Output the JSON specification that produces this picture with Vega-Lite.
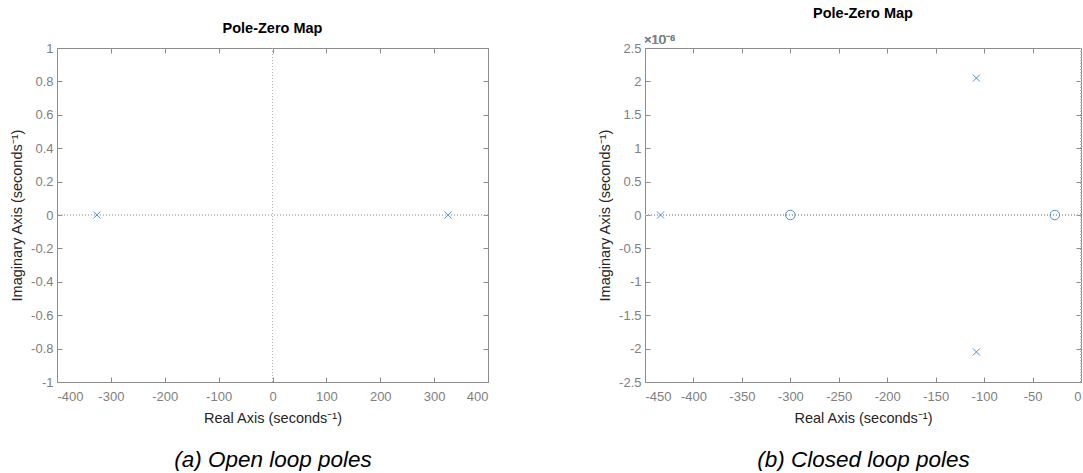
{
  "$schema": "https://vega.github.io/schema/vega-lite/v6.json",
  "padding": {"left": 9, "top": 5, "right": 0, "bottom": 0},
  "bounds": "flush",
  "spacing": 157,
  "background": "white",
  "config": {
    "font": "Liberation Sans",
    "view": {"stroke": "#8c8c8c", "strokeWidth": 1},
    "axis": {
      "domain": false, "grid": false,
      "tickColor": "#8c8c8c", "tickSize": -5,
      "labelColor": "#808080", "labelFontSize": 13, "labelFont": "Liberation Sans",
      "labelPadding": 9, "labelOverlap": false,
      "titleFont": "Liberation Sans", "titleFontSize": 14.5, "titleFontWeight": "normal", "titleColor": "#262626"
    },
    "axisBottom": {"labelPadding": 13},
    "title": {"font": "Liberation Sans", "fontSize": 14.5, "fontWeight": "bold", "color": "#000000"}
  },
  "datasets": {
    "open": [
      {"re": -326, "im": 0, "type": "pole"},
      {"re": 326, "im": 0, "type": "pole"}
    ],
    "closed": [
      {"re": -434, "im": 0, "type": "pole"},
      {"re": -300, "im": 0, "type": "zero"},
      {"re": -108, "im": 2.05e-6, "type": "pole"},
      {"re": -108, "im": -2.05e-6, "type": "pole"},
      {"re": -27, "im": 0, "type": "zero"}
    ]
  },
  "hconcat": [
    {
      "width": 431, "height": 334,
      "title": {"text": "Pole-Zero Map", "offset": 6},
      "resolve": {"axis": {"x": "independent", "y": "independent"}},
      "data": {"name": "open"},
      "layer": [
        {
          "mark": {"type": "rule", "color": "#b0b0b0", "strokeDash": [1, 2], "strokeWidth": 1},
          "encoding": {"y": {"datum": 0, "type": "quantitative", "scale": {"domain": [-1, 1], "nice": false, "zero": false}, "axis": null}}
        },
        {
          "mark": {"type": "rule", "color": "#b0b0b0", "strokeDash": [1, 2], "strokeWidth": 1},
          "encoding": {"x": {"datum": 0, "type": "quantitative", "scale": {"domain": [-400, 400], "nice": false, "zero": false}, "axis": null}}
        },
        {
          "mark": {"type": "point", "opacity": 0},
          "encoding": {
            "x": {"field": "re", "type": "quantitative", "scale": {"domain": [-400, 400], "nice": false, "zero": false},
              "axis": {"orient": "top", "labels": false, "title": null, "values": [-400, -300, -200, -100, 0, 100, 200, 300, 400]}},
            "y": {"field": "im", "type": "quantitative", "scale": {"domain": [-1, 1], "nice": false, "zero": false},
              "axis": {"orient": "right", "labels": false, "title": null, "values": [-1, -0.8, -0.6, -0.4, -0.2, 0, 0.2, 0.4, 0.6, 0.8, 1]}}
          }
        },
        {
          "mark": {"type": "point", "opacity": 0},
          "encoding": {
            "x": {"field": "re", "type": "quantitative", "scale": {"domain": [-400, 400], "nice": false, "zero": false},
              "axis": {"orient": "bottom", "labels": false, "ticks": false, "title": "(a) Open loop poles", "titleFontSize": 22.5, "titleFontStyle": "italic", "titleColor": "#000000", "titlePadding": 66}},
            "y": {"field": "im", "type": "quantitative", "scale": {"domain": [-1, 1], "nice": false, "zero": false}, "axis": null}
          }
        },
        {
          "mark": {"type": "point", "filled": false, "color": "#4a90d9", "strokeWidth": 1, "size": 49, "shape": "M-1,-1L1,1M1,-1L-1,1", "opacity": 1},
          "encoding": {
            "x": {"field": "re", "type": "quantitative", "scale": {"domain": [-400, 400], "nice": false, "zero": false},
              "axis": {"orient": "bottom", "title": "Real Axis (seconds⁻¹)", "values": [-400, -300, -200, -100, 0, 100, 200, 300, 400], "labelExpr": "replace(format(datum.value, 'd'), '−', '-')", "titlePadding": 8}},
            "y": {"field": "im", "type": "quantitative", "scale": {"domain": [-1, 1], "nice": false, "zero": false},
              "axis": {"orient": "left", "title": "Imaginary Axis (seconds⁻¹)", "values": [-1, -0.8, -0.6, -0.4, -0.2, 0, 0.2, 0.4, 0.6, 0.8, 1], "labelExpr": "replace(format(datum.value, '.1~f'), '−', '-')", "titlePadding": 6}}
          }
        }
      ]
    },
    {
      "width": 436, "height": 334,
      "title": {"text": "Pole-Zero Map", "offset": 13},
      "resolve": {"axis": {"x": "independent", "y": "independent"}},
      "data": {"name": "closed"},
      "layer": [
        {
          "mark": {"type": "rule", "color": "#b0b0b0", "strokeDash": [1, 2], "strokeWidth": 1},
          "encoding": {"y": {"datum": 0, "type": "quantitative", "scale": {"domain": [-2.5e-6, 2.5e-6], "nice": false, "zero": false}, "axis": null}}
        },
        {
          "mark": {"type": "rule", "color": "#b0b0b0", "strokeDash": [1, 2], "strokeWidth": 1},
          "encoding": {"x": {"datum": 0, "type": "quantitative", "scale": {"domain": [-450, 0], "nice": false, "zero": false}, "axis": null}}
        },
        {
          "mark": {"type": "text", "align": "left", "baseline": "bottom", "dx": -1, "dy": -1, "fontSize": 13, "color": "#808080", "text": "×10⁻⁶"},
          "encoding": {
            "x": {"datum": -450, "type": "quantitative", "scale": {"domain": [-450, 0], "nice": false, "zero": false}, "axis": null},
            "y": {"datum": 2.5e-6, "type": "quantitative", "scale": {"domain": [-2.5e-6, 2.5e-6], "nice": false, "zero": false}, "axis": null}
          }
        },
        {
          "mark": {"type": "point", "opacity": 0},
          "encoding": {
            "x": {"field": "re", "type": "quantitative", "scale": {"domain": [-450, 0], "nice": false, "zero": false},
              "axis": {"orient": "top", "labels": false, "title": null, "values": [-450, -400, -350, -300, -250, -200, -150, -100, -50, 0]}},
            "y": {"field": "im", "type": "quantitative", "scale": {"domain": [-2.5e-6, 2.5e-6], "nice": false, "zero": false},
              "axis": {"orient": "right", "labels": false, "title": null, "values": [-2.5e-6, -2e-6, -1.5e-6, -1e-6, -0.5e-6, 0, 0.5e-6, 1e-6, 1.5e-6, 2e-6, 2.5e-6]}}
          }
        },
        {
          "mark": {"type": "point", "opacity": 0},
          "encoding": {
            "x": {"field": "re", "type": "quantitative", "scale": {"domain": [-450, 0], "nice": false, "zero": false},
              "axis": {"orient": "bottom", "labels": false, "ticks": false, "title": "(b) Closed loop poles", "titleFontSize": 22.5, "titleFontStyle": "italic", "titleColor": "#000000", "titlePadding": 66}},
            "y": {"field": "im", "type": "quantitative", "scale": {"domain": [-2.5e-6, 2.5e-6], "nice": false, "zero": false}, "axis": null}
          }
        },
        {
          "transform": [{"filter": "datum.type == 'zero'"}],
          "mark": {"type": "point", "filled": false, "color": "#4a90d9", "strokeWidth": 1, "size": 90, "shape": "circle", "opacity": 1},
          "encoding": {
            "x": {"field": "re", "type": "quantitative", "scale": {"domain": [-450, 0], "nice": false, "zero": false}, "axis": null},
            "y": {"field": "im", "type": "quantitative", "scale": {"domain": [-2.5e-6, 2.5e-6], "nice": false, "zero": false}, "axis": null}
          }
        },
        {
          "transform": [{"filter": "datum.type == 'pole'"}],
          "mark": {"type": "point", "filled": false, "color": "#4a90d9", "strokeWidth": 1, "size": 49, "shape": "M-1,-1L1,1M1,-1L-1,1", "opacity": 1},
          "encoding": {
            "x": {"field": "re", "type": "quantitative", "scale": {"domain": [-450, 0], "nice": false, "zero": false},
              "axis": {"orient": "bottom", "title": "Real Axis (seconds⁻¹)", "values": [-450, -400, -350, -300, -250, -200, -150, -100, -50, 0], "labelExpr": "replace(format(datum.value, 'd'), '−', '-')", "titlePadding": 8}},
            "y": {"field": "im", "type": "quantitative", "scale": {"domain": [-2.5e-6, 2.5e-6], "nice": false, "zero": false},
              "axis": {"orient": "left", "title": "Imaginary Axis (seconds⁻¹)", "values": [-2.5e-6, -2e-6, -1.5e-6, -1e-6, -0.5e-6, 0, 0.5e-6, 1e-6, 1.5e-6, 2e-6, 2.5e-6], "labelExpr": "replace(format(datum.value * 1000000, '.1~f'), '−', '-')", "titlePadding": 6}}
          }
        }
      ]
    }
  ]
}
